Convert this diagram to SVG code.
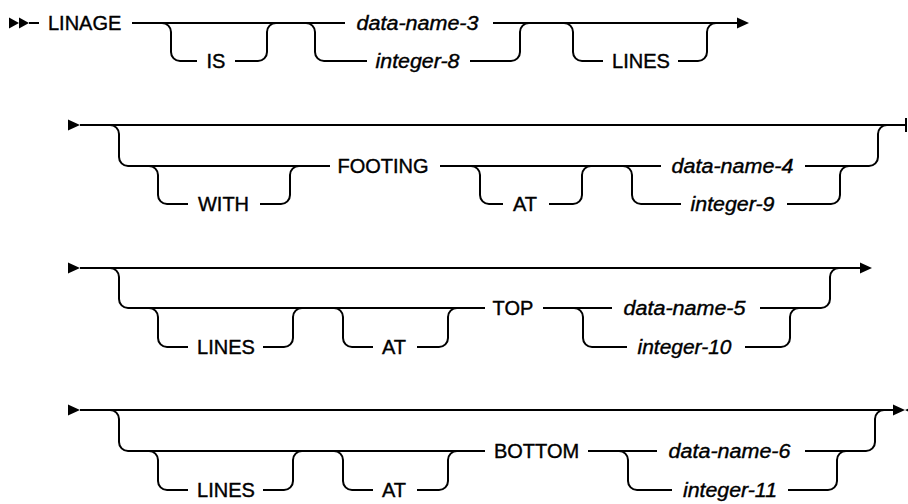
<svg xmlns="http://www.w3.org/2000/svg" width="908" height="504" viewBox="0 0 908 504">
<style>
.ln{fill:none;stroke:#000;stroke-width:2}
.ah{fill:#000;stroke:none}
text{font-family:"Liberation Sans",Arial,sans-serif;font-size:20px;fill:#000;stroke:#000;stroke-width:0.4px}
.kw{text-anchor:middle}
.var{font-style:italic;text-anchor:middle;font-size:20.5px}
</style>
<rect width="908" height="504" fill="#fff"/>
<g id="connectors">
<!-- row 1 -->
<path class="ln" d="M29 23H39M132 23H345M493 23H737"/>
<path class="ln" d="M162 23A9 9 0 0 1 171 32V52A9 9 0 0 0 180 61H197M235 61H258A9 9 0 0 0 267 52V32A9 9 0 0 1 276 23"/>
<path class="ln" d="M306 23A9 9 0 0 1 315 32V52A9 9 0 0 0 324 61H367M470 61H511A9 9 0 0 0 520 52V32A9 9 0 0 1 529 23"/>
<path class="ln" d="M564 23A9 9 0 0 1 573 32V52A9 9 0 0 0 582 61H603M678 61H698A9 9 0 0 0 707 52V32A9 9 0 0 1 716 23"/>
<polygon class="ah" points="9,17.5 19,23 9,28.5"/>
<polygon class="ah" points="19,17.5 29,23 19,28.5"/>
<polygon class="ah" points="737,17.5 749,23 737,28.5"/>
<!-- row 2 -->
<polygon class="ah" points="68,119.5 80,125 68,130.5"/>
<path class="ln" d="M80 125H906M906 118V132"/>
<path class="ln" d="M110 125A9 9 0 0 1 119 134V157A9 9 0 0 0 128 166H330M440 166H661M805 166H869A9 9 0 0 0 878 157V134A9 9 0 0 1 887 125"/>
<path class="ln" d="M149 166A9 9 0 0 1 158 175V195A9 9 0 0 0 167 204H188M260 204H281A9 9 0 0 0 290 195V175A9 9 0 0 1 299 166"/>
<path class="ln" d="M471 166A9 9 0 0 1 480 175V195A9 9 0 0 0 489 204H503M549 204H573A9 9 0 0 0 582 195V175A9 9 0 0 1 591 166"/>
<path class="ln" d="M623 166A9 9 0 0 1 632 175V195A9 9 0 0 0 641 204H681M787 204H831A9 9 0 0 0 840 195V175A9 9 0 0 1 849 166"/>
<!-- row 3 -->
<polygon class="ah" points="68,262.5 80,268 68,273.5"/>
<path class="ln" d="M80 268H860"/>
<polygon class="ah" points="860,262.5 872,268 860,273.5"/>
<path class="ln" d="M110 268A9 9 0 0 1 119 277V299A9 9 0 0 0 128 308H485M543 308H612M760 308H821A9 9 0 0 0 830 299V277A9 9 0 0 1 839 268"/>
<path class="ln" d="M149 308A9 9 0 0 1 158 317V338A9 9 0 0 0 167 347H188M263 347H284A9 9 0 0 0 293 338V317A9 9 0 0 1 302 308"/>
<path class="ln" d="M334 308A9 9 0 0 1 343 317V338A9 9 0 0 0 352 347H373M417 347H439A9 9 0 0 0 448 338V317A9 9 0 0 1 457 308"/>
<path class="ln" d="M574 308A9 9 0 0 1 583 317V338A9 9 0 0 0 592 347H627M745 347H781A9 9 0 0 0 790 338V317A9 9 0 0 1 799 308"/>
<!-- row 4 -->
<polygon class="ah" points="68,404.5 80,410 68,415.5"/>
<path class="ln" d="M80 410H893"/>
<polygon class="ah" points="893,404.5 905,410 893,415.5"/>
<polygon class="ah" points="917,404.5 905,410 917,415.5"/>
<path class="ln" d="M110 410A9 9 0 0 1 119 419V442A9 9 0 0 0 128 451H485M588 451H657M805 451H866A9 9 0 0 0 875 442V419A9 9 0 0 1 884 410"/>
<path class="ln" d="M149 451A9 9 0 0 1 158 460V481A9 9 0 0 0 167 490H188M263 490H284A9 9 0 0 0 293 481V460A9 9 0 0 1 302 451"/>
<path class="ln" d="M334 451A9 9 0 0 1 343 460V481A9 9 0 0 0 352 490H373M417 490H439A9 9 0 0 0 448 481V460A9 9 0 0 1 457 451"/>
<path class="ln" d="M619 451A9 9 0 0 1 628 460V481A9 9 0 0 0 637 490H672M788 490H828A9 9 0 0 0 837 481V460A9 9 0 0 1 846 451"/>
</g>
<g id="n-linage"><text x="48" y="30">LINAGE</text></g>
<g id="n-is"><text class="kw" x="216" y="68">IS</text></g>
<g id="n-data-name-3"><text class="var" x="417.5" y="30" textLength="122" lengthAdjust="spacingAndGlyphs">data-name-3</text></g>
<g id="n-integer-8"><text class="var" x="417.5" y="68" textLength="84" lengthAdjust="spacingAndGlyphs">integer-8</text></g>
<g id="n-lines-1"><text class="kw" x="641" y="68">LINES</text></g>
<g id="n-with"><text class="kw" x="223.5" y="211">WITH</text></g>
<g id="n-footing"><text class="kw" x="383" y="173">FOOTING</text></g>
<g id="n-at-1"><text class="kw" x="525" y="211">AT</text></g>
<g id="n-data-name-4"><text class="var" x="732.5" y="173" textLength="122" lengthAdjust="spacingAndGlyphs">data-name-4</text></g>
<g id="n-integer-9"><text class="var" x="732.5" y="211" textLength="84" lengthAdjust="spacingAndGlyphs">integer-9</text></g>
<g id="n-lines-2"><text class="kw" x="226" y="354">LINES</text></g>
<g id="n-at-2"><text class="kw" x="394" y="354">AT</text></g>
<g id="n-top"><text class="kw" x="513" y="315">TOP</text></g>
<g id="n-data-name-5"><text class="var" x="684.5" y="315" textLength="122" lengthAdjust="spacingAndGlyphs">data-name-5</text></g>
<g id="n-integer-10"><text class="var" x="684.5" y="354" textLength="94" lengthAdjust="spacingAndGlyphs">integer-10</text></g>
<g id="n-lines-3"><text class="kw" x="226" y="497">LINES</text></g>
<g id="n-at-3"><text class="kw" x="394" y="497">AT</text></g>
<g id="n-bottom"><text class="kw" x="536.5" y="458">BOTTOM</text></g>
<g id="n-data-name-6"><text class="var" x="729.5" y="458" textLength="122" lengthAdjust="spacingAndGlyphs">data-name-6</text></g>
<g id="n-integer-11"><text class="var" x="730" y="497" textLength="94" lengthAdjust="spacingAndGlyphs">integer-11</text></g>
</svg>
